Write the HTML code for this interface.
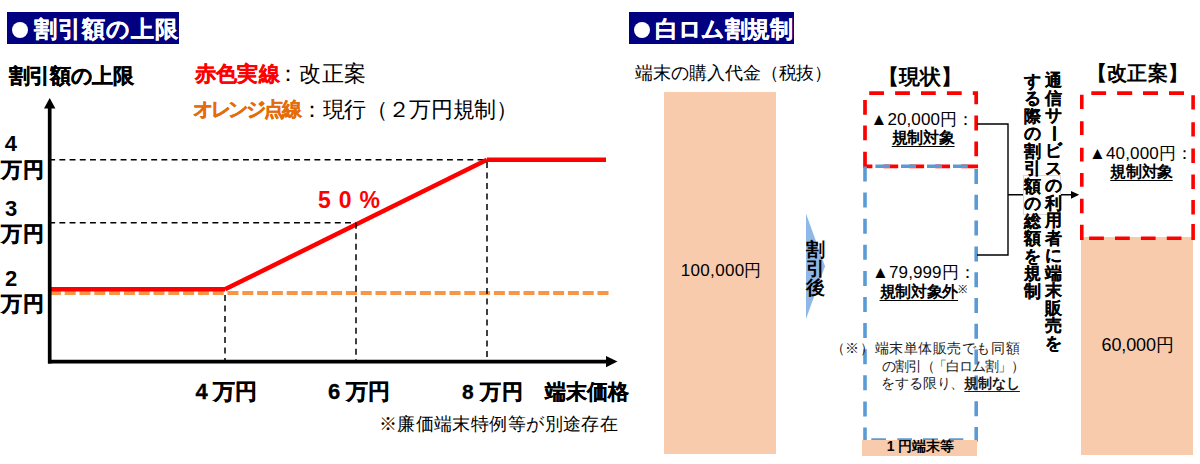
<!DOCTYPE html>
<html><head><meta charset="utf-8">
<style>
html,body{margin:0;padding:0;background:#fff;width:1200px;height:464px;overflow:hidden;position:relative;font-family:"Liberation Sans",sans-serif;color:#000}
.a{position:absolute;white-space:nowrap;line-height:1}
.b{font-weight:bold}
svg{position:absolute;left:0;top:0}
.ttl{position:absolute;background:#000080}
.dot{position:absolute;width:16px;height:16px;border-radius:50%;background:#fff}
.peach{position:absolute;background:#F8CBAD}
.u{text-decoration:underline;text-decoration-thickness:1px;text-underline-offset:3px}
</style></head><body>
<div class="ttl" style="left:7px;top:12px;width:172px;height:32px"></div>
<div class="dot" style="left:12px;top:22px"></div>
<div class="a" style="left:34.00px;top:17.75px;font-size:23.00px;letter-spacing:1.00px;font-weight:bold;color:#fff;-webkit-text-stroke:0.25px currentColor">割引額の上限</div>
<div class="ttl" style="left:629px;top:12px;width:165px;height:32px"></div>
<div class="dot" style="left:634px;top:22px"></div>
<div class="a" style="left:655.45px;top:17.70px;font-size:23.00px;letter-spacing:-0.54px;font-weight:bold;color:#fff;-webkit-text-stroke:0.25px currentColor">白ロム割規制</div>
<svg width="1200" height="464" viewBox="0 0 1200 464">
  <g stroke="#000" stroke-width="1.5" stroke-dasharray="5.9 4.3" fill="none">
    <line x1="49.2" y1="159.7" x2="487" y2="159.7"/>
    <line x1="49.2" y1="222.7" x2="356" y2="222.7"/>
  </g>
  <line x1="49.9" y1="293" x2="608.7" y2="293" stroke="#F79646" stroke-width="3.8" stroke-dasharray="11 3.8"/>
  <g stroke="#FF0000" stroke-width="4.5" fill="none">
    <line x1="49" y1="289.3" x2="225" y2="289.3"/>
    <line x1="225" y1="289.3" x2="487" y2="159.7"/>
    <line x1="487" y1="159.7" x2="606" y2="159.7"/>
  </g>
  <g stroke="#000" stroke-width="1.5" stroke-dasharray="6 4.5" fill="none">
    <line x1="225" y1="295" x2="225" y2="360"/>
    <line x1="356" y1="222.7" x2="356" y2="360"/>
    <line x1="487" y1="162" x2="487" y2="360"/>
  </g>
  <g stroke="#000" stroke-width="3.7" fill="none">
    <line x1="49.7" y1="107" x2="49.7" y2="363.5"/>
    <line x1="48" y1="361.6" x2="607" y2="361.6"/>
  </g>
  <polygon points="49.7,98 44,108.5 55.4,108.5" fill="#000"/>
  <polygon points="617.5,361.6 606,356 606,367.2" fill="#000"/>
</svg>
<div class="peach" style="left:664px;top:92px;width:112px;height:362px"></div>
<div class="a" style="left:680.85px;top:262.35px;font-size:17.00px;letter-spacing:0.30px;">100,000円</div>
<svg width="1200" height="464" viewBox="0 0 1200 464">
  <polygon points="806,213.6 825,266.3 806,319" fill="#8FB8E8"/>
</svg>
<div class="a" style="left:806.00px;top:240.20px;font-size:19.00px;font-weight:bold;line-height:19px">割<br>引<br>後</div>
<svg width="1200" height="464" viewBox="0 0 1200 464">
  <path d="M869.20,93.10H884.00M895.10,93.10H909.90M921.00,93.10H935.80M946.90,93.10H961.70M972.8,93.1H976.2V104.3M976.20,115.60V130.40M976.20,141.40V156.20M961.10,166.30H978.05M935.20,166.30H950.00M909.30,166.30H924.10M883.40,166.30H898.20M872.4,166.3H865V151.8M865.00,125.60V140.30M865.00,100.00V114.70" fill="none" stroke="#FF0000" stroke-width="3.7" stroke-linecap="butt" stroke-linejoin="miter"/>
  <path d="M875.40,166.30H890.00M901.00,166.30H916.00M927.00,166.30H942.00M953.00,166.30H967.80M865.00,166.50V181.50M865.00,192.60V207.60M865.00,218.70V233.70M865.00,244.80V259.80M865.00,270.90V285.90M865.00,297.00V312.00M865.00,323.10V338.10M865.00,349.20V364.20M865.00,375.30V390.30M865.00,401.40V416.40M865.00,427.50V441.80M976.20,169.00V184.00M976.20,194.80V209.80M976.20,220.60V235.60M976.20,246.40V261.40M976.20,272.20V287.20M976.20,298.00V313.00M976.20,323.80V338.80M976.20,349.60V364.60M976.20,375.40V390.40M976.20,401.20V416.20M976.20,427.00V441.80M871.30,440.00H886.00M897.30,440.00H912.00M922.90,440.00H938.00M949.00,440.00H963.30" fill="none" stroke="#5B9BD5" stroke-width="3.6" stroke-linecap="butt" stroke-linejoin="miter"/>
  <g stroke="#000" stroke-width="1.4" fill="none">
    <polyline points="977,124 1008,124 1008,255 977,255"/>
    <line x1="1008" y1="194.8" x2="1072" y2="194.8"/>
  </g>
  <polygon points="1079.2,194.8 1071,190.9 1071,198.7" fill="#000"/>
</svg>
<div class="peach" style="left:862px;top:440px;width:115px;height:16px"></div>
<div class="a" style="left:886.75px;top:439.25px;font-size:14.00px;letter-spacing:-0.06px;font-weight:bold">1 円端末等</div>
<div class="a" style="left:830.80px;top:341.50px;font-size:14.00px;letter-spacing:0.57px;font-family:'Liberation Serif',serif;color:#1a1a1a">（※）端末単体販売でも同額</div>
<div style="position:absolute;left:1022.6px;top:175.4px;width:36.7px;height:37.8px;background:#fff;border:0.6px solid #d9d9d9"></div>
<div class="a" style="left:1023.65px;top:72.70px;font-size:17.00px;font-weight:bold;line-height:17.5px;-webkit-text-stroke:0.12px currentColor">す<br>る<br>際<br>の<br>割<br>引<br>額<br>の<br>総<br>額<br>を<br>規<br>制</div>
<div class="peach" style="left:1081px;top:237px;width:112px;height:218px"></div>
<div class="a" style="left:1101.60px;top:335.60px;font-size:18.00px;letter-spacing:-0.13px;">60,000円</div>
<svg width="1200" height="464" viewBox="0 0 1200 464">
  <path d="M1091.30,93.10H1106.10M1117.10,93.10H1132.20M1143.00,93.10H1158.00M1169.00,93.10H1184.00M1081.80,94.70V109.10M1081.80,121.20V135.00M1081.80,147.80V161.60M1081.80,172.90V186.70M1081.80,198.80V213.30M1081.80,224.70V240.10M1193.10,95.30V109.60M1193.10,122.20V136.50M1193.10,148.50V163.00M1193.10,174.50V189.00M1193.10,200.00V214.50M1193.10,224.00V240.10M1089.10,238.30H1103.90M1115.00,238.30H1129.80M1140.90,238.30H1155.60M1166.80,238.30H1181.50" fill="none" stroke="#FF0000" stroke-width="3.6" stroke-linecap="butt" stroke-linejoin="miter"/>
</svg>
<div class="a" style="left:8.60px;top:64.75px;font-size:21.00px;letter-spacing:-0.36px;font-weight:bold;-webkit-text-stroke:0.3px currentColor">割引額の上限</div>
<div class="a" style="left:194.60px;top:63.25px;font-size:21.00px;letter-spacing:0.33px;font-weight:bold;color:#FF0000;-webkit-text-stroke:0.3px currentColor">赤色実線</div>
<div class="a" style="left:277.25px;top:63.25px;font-size:22.00px;letter-spacing:0.17px;">：改正案</div>
<div class="a" style="left:192.70px;top:99.30px;font-size:20.00px;letter-spacing:-2.16px;font-weight:bold;color:#E46C0A;-webkit-text-stroke:0.3px currentColor">オレンジ点線</div>
<div class="a" style="left:301.25px;top:99.10px;font-size:22.00px;letter-spacing:-0.39px;">：現行（２万円規制）</div>
<div class="a" style="left:4.75px;top:133.25px;font-size:22.00px;font-weight:bold">4</div>
<div class="a" style="left:1.00px;top:159.05px;font-size:21.00px;letter-spacing:1.00px;font-weight:bold;-webkit-text-stroke:0.3px currentColor">万円</div>
<div class="a" style="left:4.95px;top:197.70px;font-size:22.00px;font-weight:bold">3</div>
<div class="a" style="left:1.00px;top:223.05px;font-size:21.00px;letter-spacing:1.00px;font-weight:bold;-webkit-text-stroke:0.3px currentColor">万円</div>
<div class="a" style="left:4.95px;top:267.70px;font-size:22.00px;font-weight:bold">2</div>
<div class="a" style="left:1.00px;top:292.85px;font-size:21.00px;letter-spacing:1.00px;font-weight:bold;-webkit-text-stroke:0.3px currentColor">万円</div>
<div class="a" style="left:195.50px;top:380.95px;font-size:22.00px;letter-spacing:-0.33px;font-weight:bold;-webkit-text-stroke:0.3px currentColor">4 万円</div>
<div class="a" style="left:328.00px;top:380.95px;font-size:22.00px;font-weight:bold;-webkit-text-stroke:0.3px currentColor">6 万円</div>
<div class="a" style="left:461.95px;top:380.95px;font-size:21.00px;letter-spacing:0.43px;font-weight:bold;-webkit-text-stroke:0.3px currentColor">8 万円</div>
<div class="a" style="left:545.00px;top:380.50px;font-size:21.00px;font-weight:bold;-webkit-text-stroke:0.15px currentColor">端末価格</div>
<div class="a" style="left:378.75px;top:414.50px;font-size:18.00px;letter-spacing:0.43px;">※廉価端末特例等が別途存在</div>
<div class="a" style="left:318.00px;top:188.75px;font-size:23.00px;font-weight:bold;color:#FF0000;letter-spacing:8px">50%</div>
<div class="a" style="left:635.40px;top:63.70px;font-size:18.00px;letter-spacing:-0.10px;">端末の購入代金（税抜）</div>
<div class="a" style="left:878.30px;top:65.50px;font-size:21.00px;letter-spacing:-0.20px;font-weight:bold">【現状】</div>
<div class="a" style="left:870.60px;top:110.65px;font-size:17.00px;letter-spacing:0.08px;">▲20,000円：</div>
<div class="a" style="left:891.75px;top:129.50px;font-size:16.00px;letter-spacing:-0.30px;font-weight:bold"><span class="u">規制対象</span></div>
<div class="a" style="left:872.10px;top:264.40px;font-size:17.00px;letter-spacing:0.10px;">▲79,999円：</div>
<div class="a" style="left:879.50px;top:284.00px;font-size:16.00px;letter-spacing:-0.28px;font-weight:bold"><span class="u">規制対象外</span><span style="font-weight:normal;font-size:0.7em;vertical-align:top">※</span></div>
<div class="a" style="left:882.00px;top:359.50px;font-size:14.00px;letter-spacing:-1.15px;font-family:'Liberation Serif',serif;color:#1a1a1a">の割引（「白ロム割」）</div>
<div class="a" style="left:881.00px;top:377.00px;font-size:14.00px;letter-spacing:-0.11px;font-family:'Liberation Serif',serif;color:#1a1a1a">をする限り、<span class="u" style="font-weight:bold">規制なし</span></div>
<div class="a" style="left:1045.00px;top:72.00px;font-size:17.00px;font-weight:bold;line-height:17.5px;-webkit-text-stroke:0.12px currentColor">通<br>信<br>サ<br><span style="display:inline-block;transform:rotate(90deg)">ー</span><br>ビ<br>ス<br>の<br>利<br>用<br>者<br>に<br>端<br>末<br>販<br>売<br>を</div>
<div class="a" style="left:1086.80px;top:63.20px;font-size:20.00px;letter-spacing:0.25px;font-weight:bold">【改正案】</div>
<div class="a" style="left:1089.00px;top:145.05px;font-size:17.00px;letter-spacing:0.15px;">▲40,000円：</div>
<div class="a" style="left:1110.25px;top:164.25px;font-size:16.00px;letter-spacing:-0.37px;font-weight:bold"><span class="u">規制対象</span></div>
</body></html>
